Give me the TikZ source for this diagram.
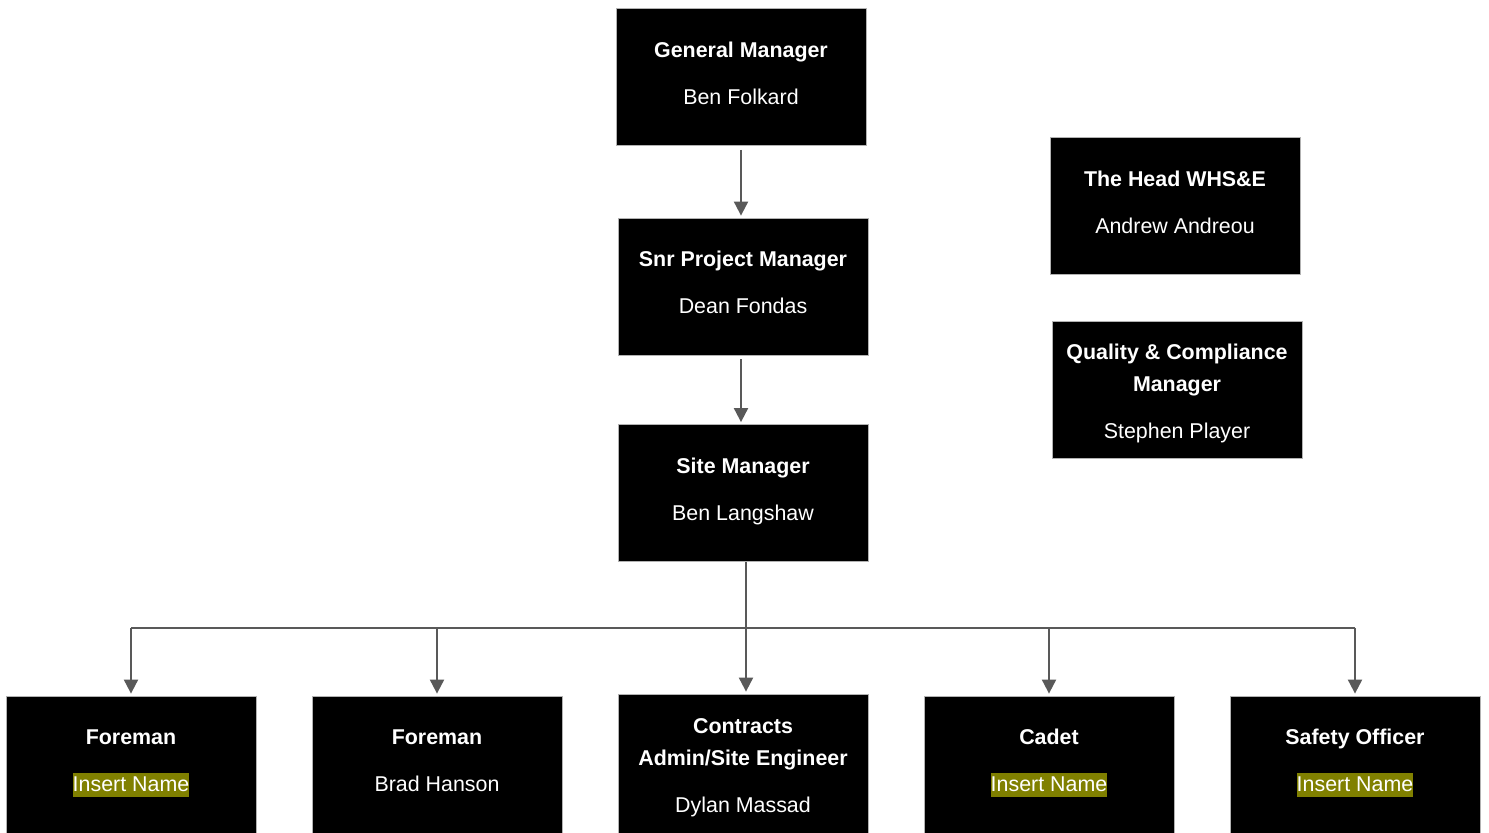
\documentclass[tikz,border=0pt]{standalone}
\usepackage{fontspec}
\setmainfont{Liberation Sans}
\usetikzlibrary{arrows.meta,calc}
\definecolor{linegray}{HTML}{595959}
\definecolor{hilite}{HTML}{808000}
\newcommand{\insertname}{\smash{{\setlength{\fboxsep}{0pt}\colorbox{hilite}{\rule[-2.7pt]{0pt}{12pt}Insert Name}}}}

\begin{document}
\begin{tikzpicture}[x=0.5pt,y=-0.5pt,
      every node/.style={font=\fontsize{10.7}{16}\selectfont},
      post/.style={rectangle,fill=black,draw=gray!60,text=white,
        minimum width=125pt,minimum height=68.5pt,align=center,inner sep=2pt},
      role/.style={post,execute at end node={\rule[-4pt]{0pt}{0pt}}},
      link/.style={draw=linegray,line width=1pt,-{Triangle[width=7pt,length=7pt]},
        shorten <=2pt,shorten >=1pt}]
      \useasboundingbox (0,0) rectangle (1489,833);

      \node[role] (gm) at (741,77) {\textbf{General Manager}\\[7.5pt]Ben Folkard};
      \node[role] (spm) at (743,286.5) {\textbf{Snr Project Manager}\\[7.5pt]Dean Fondas};
      \node[role] (sm) at (743,493) {\textbf{Site Manager}\\[7.5pt]Ben Langshaw};

      \node[role] (whs) at (1175,206) {\textbf{The Head WHS\&E}\\[7.5pt]Andrew Andreou};
      \node[post] (qcm) at (1177,389.5) {\rule{0pt}{11.8pt}\textbf{Quality \& Compliance}\\\textbf{Manager}\\[7.5pt]Stephen Player};

      \node[role] (fm1) at (131,764.5) {\textbf{Foreman}\\[7.5pt]\insertname};
      \node[role] (fm2) at (437,764.5) {\textbf{Foreman}\\[7.5pt]Brad Hanson};
      \node[post,minimum height=72pt] (cae) at (743,766) {\rule{0pt}{9pt}\textbf{Contracts}\\\textbf{Admin/Site Engineer}\\[7.5pt]Dylan Massad};
      \node[role] (cadet) at (1049,764.5) {\textbf{Cadet}\\[7.5pt]\insertname};
      \node[role] (so) at (1355,764.5) {\textbf{Safety Officer}\\[7.5pt]\insertname};

      \draw[link] (gm.south) -- (gm.south |- spm.north);
      \draw[link] (spm.south -| gm) -- (sm.north -| gm);

      \coordinate (bus) at (746,628);
      \draw[link,shorten <=0pt] (sm.south -| bus) -- (cae.north -| bus);
      \draw[linegray,line width=1pt] (fm1.north |- bus) -- (so.north |- bus);
      \foreach \n in {fm1,fm2,cadet,so}
        \draw[link,shorten <=0pt] (\n.north |- bus) -- (\n.north);
    \end{tikzpicture}
\end{document}
